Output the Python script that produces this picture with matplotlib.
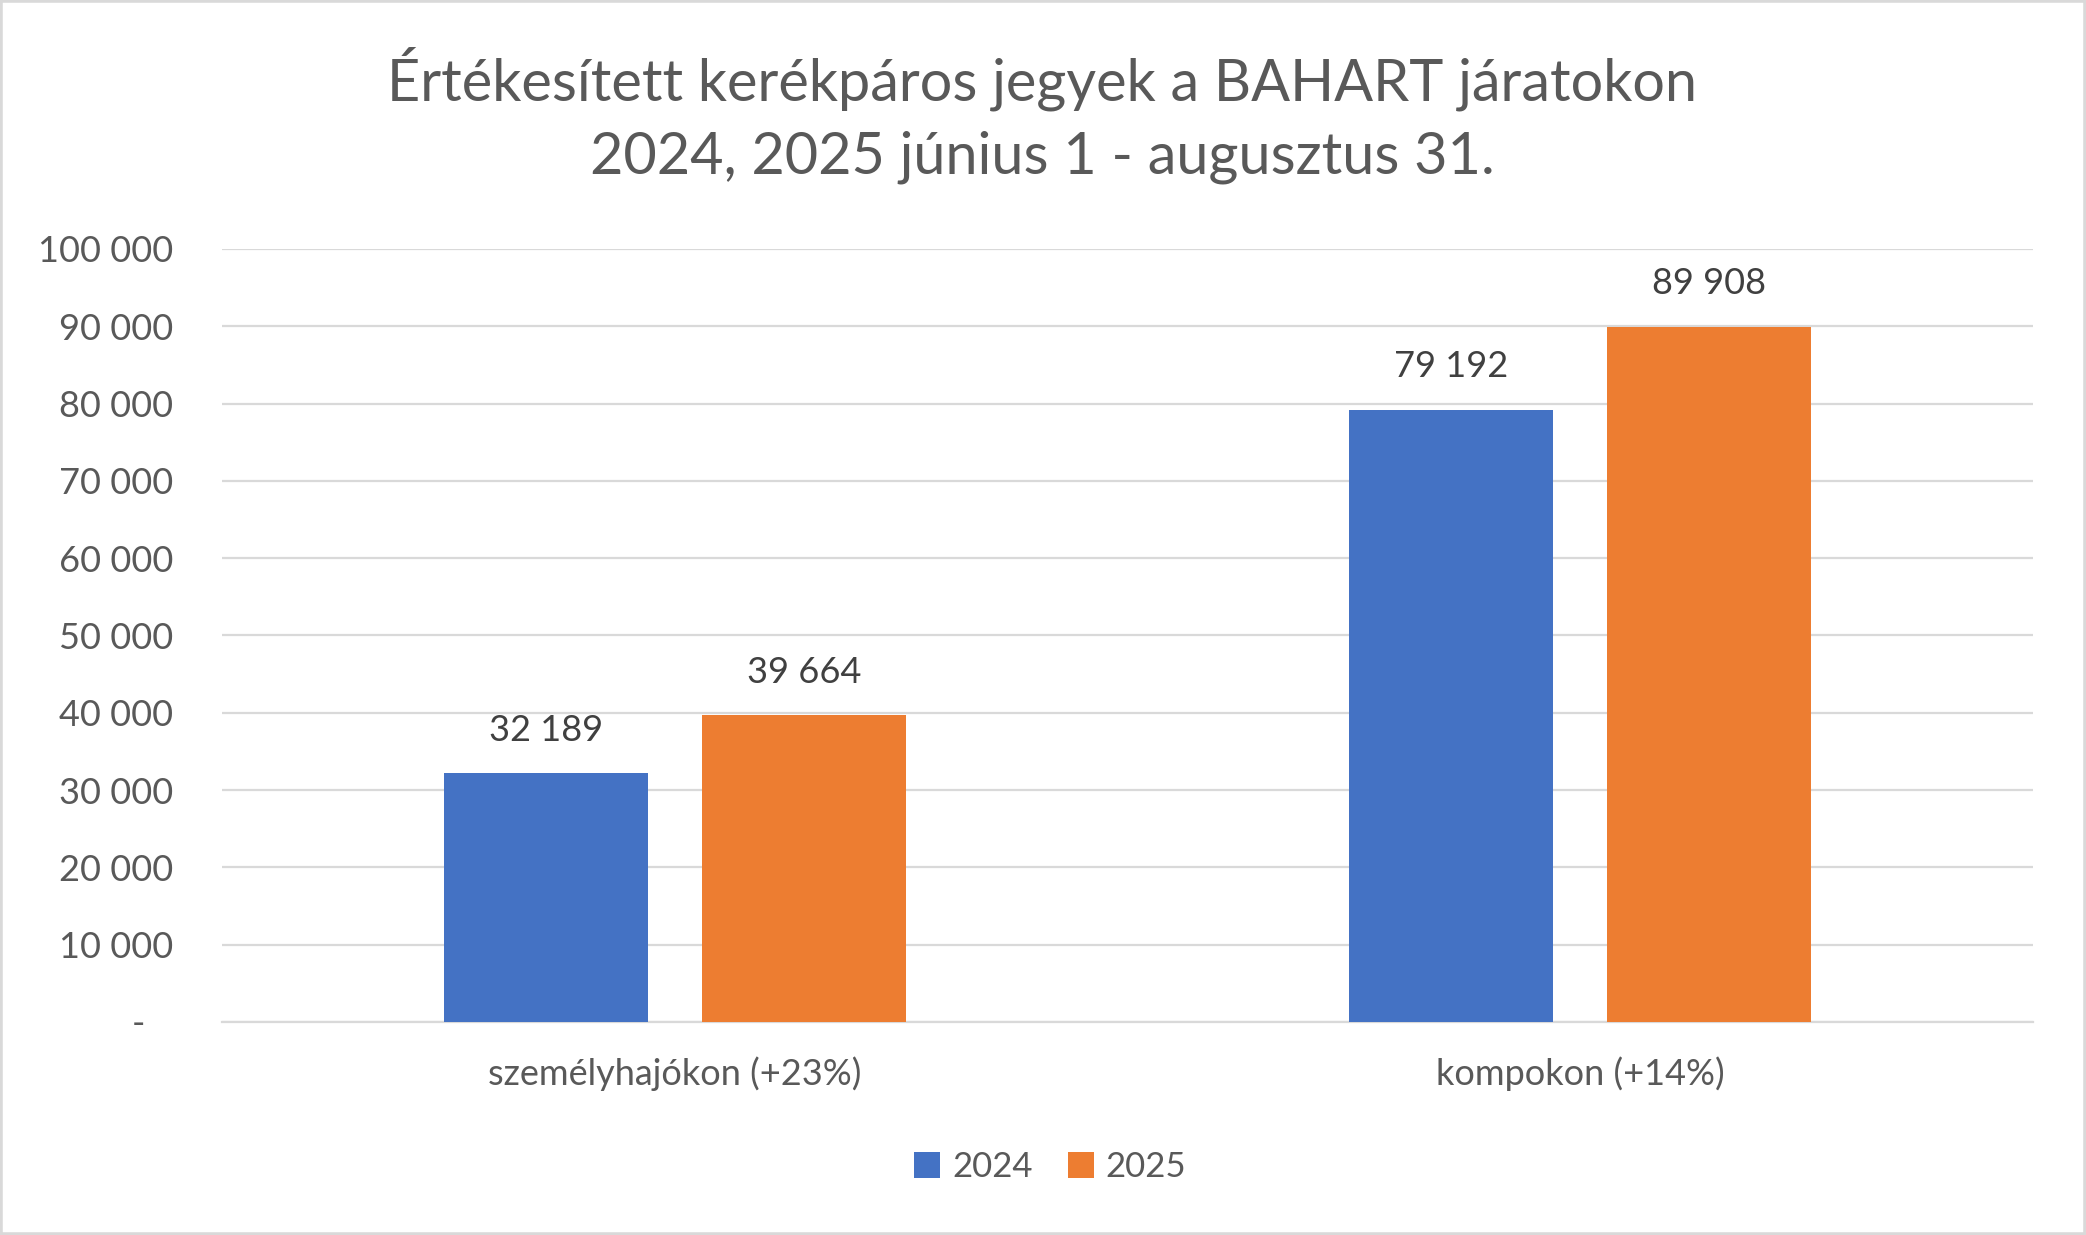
import numpy as np
import matplotlib.pyplot as plt
from matplotlib.patches import Rectangle

categories = ['személyhajókon (+23%)', 'kompokon (+14%)']
series_names = ['2024', '2025']
values_2024 = [32189, 79192]
values_2025 = [39664, 89908]
yticks = [0, 10000, 20000, 30000, 40000, 50000, 60000, 70000, 80000, 90000, 100000]

colors = ['#4472C4', '#ED7D31']
text_gray = '#595959'
label_gray = '#404040'
grid_gray = '#D9D9D9'

plt.rcParams['font.family'] = ['Lato', 'DejaVu Sans']


def fmt(v):
    if v == 0:
        return '-   '
    return '{:,}'.format(v).replace(',', ' ')


fig = plt.figure(figsize=(20.86, 12.35), dpi=100)
ax = fig.add_axes([0.1064, 0.1725, 0.8682, 0.6259])

x = np.arange(len(categories))
width = 0.225
offset = 0.1425
for i, (vals, col, name) in enumerate(zip([values_2024, values_2025], colors, series_names)):
    pos = x + (offset if i else -offset)
    ax.bar(pos, vals, width=width, color=col, label=name, zorder=3)
    for px, v in zip(pos, vals):
        ax.annotate(fmt(v), (px, v), xytext=(0, 31), textcoords='offset points',
                    ha='center', va='center', fontsize=26, color=label_gray)

ax.set_xlim(-0.5, 1.5)
ax.set_ylim(0, 100000)
ax.set_yticks(yticks)
ax.set_yticklabels([fmt(v) for v in yticks])
ax.set_xticks(x)
ax.set_xticklabels(categories)
ax.tick_params(axis='y', length=0, pad=35, labelsize=26, labelcolor=text_gray)
ax.tick_params(axis='x', length=0, pad=25, labelsize=26, labelcolor=text_gray)
ax.grid(axis='y', color=grid_gray, linewidth=1.6, zorder=0)
for s in ['top', 'right', 'left']:
    ax.spines[s].set_visible(False)
ax.spines['bottom'].set_color(grid_gray)
ax.spines['bottom'].set_linewidth(1.6)

fig.text(0.4995, 0.9365, 'Értékesített kerékpáros jegyek a BAHART járatokon',
         ha='center', va='center', fontsize=41.5, color=text_gray)
fig.text(0.4995, 0.8725, '2024, 2025 június 1 - augusztus 31.',
         ha='center', va='center', fontsize=41.5, color=text_gray)

fig.legend(loc='center', bbox_to_anchor=(0.5035, 0.055), ncol=2, frameon=False,
           fontsize=25, labelcolor=text_gray, handlelength=0.75, handleheight=0.75,
           handletextpad=0.35, columnspacing=1.0)

fig.patches.append(Rectangle((0, 0), 1, 1, transform=fig.transFigure, fill=False,
                             edgecolor=grid_gray, linewidth=4))

fig.savefig('out.png', dpi=100)
